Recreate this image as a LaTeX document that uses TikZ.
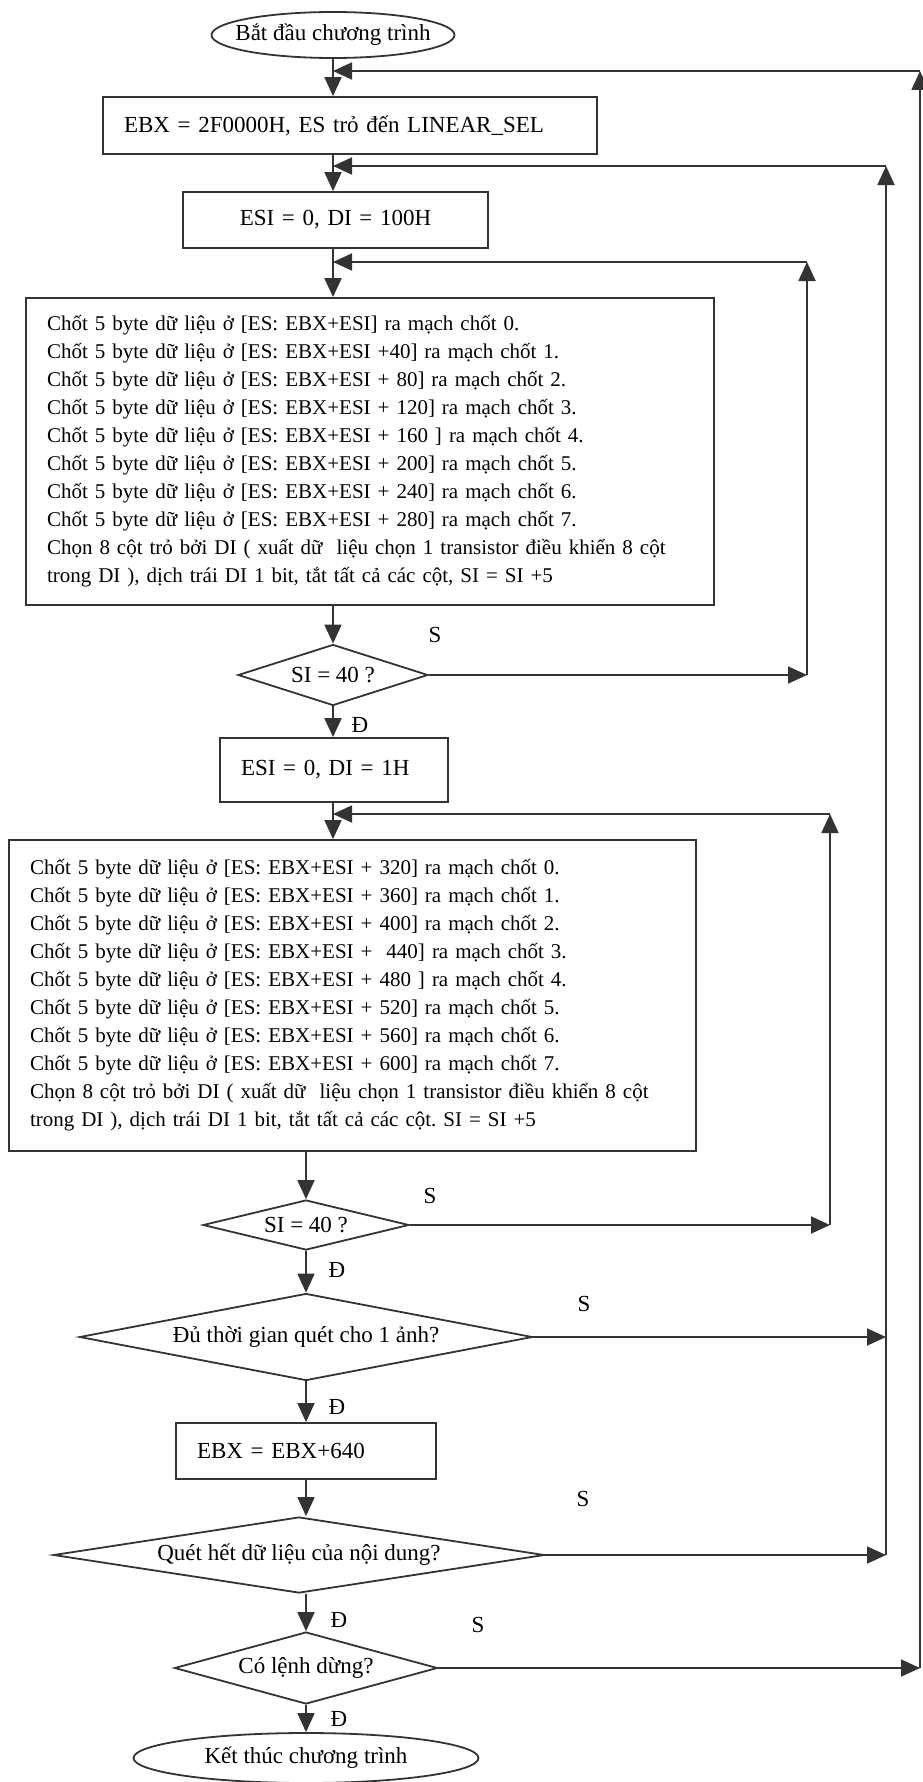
\documentclass[tikz,border=0pt]{standalone}
\usepackage{fontspec}
\setmainfont{Liberation Serif}
\usepackage{tikz}
\usetikzlibrary{shapes.geometric, arrows.meta, positioning, calc}
\frenchspacing

\newcommand{\chotline}[2]{Chốt 5 byte dữ liệu ở [ES: EBX+ESI#1] ra mạch chốt #2.}

\begin{document}
\begin{tikzpicture}[
    x=1pt, y=-1pt,
    flow/.style={draw=black!80, line width=1.8pt, -{Triangle[length=19pt,width=17pt]}},
    procbox/.style={rectangle, draw=black!80, line width=1.8pt, inner xsep=21pt,
                    inner ysep=0pt, align=left, font=\fontsize{23}{28}\selectfont},
    bodybox/.style={procbox, font=\fontsize{21}{28}\selectfont},
    decision/.style={diamond, draw=black!80, line width=1.8pt, inner sep=0pt,
                     font=\fontsize{23}{28}\selectfont},
    terminal/.style={ellipse, draw=black!80, line width=1.8pt, inner sep=0pt,
                     font=\fontsize{23}{28}\selectfont},
    branch/.style={font=\fontsize{23}{28}\selectfont, inner sep=0pt}
]
\useasboundingbox (0,0) rectangle (923,1782);

% upper column
\node[terminal, minimum width=243, minimum height=46, inner xsep=-17pt] (start) at (333,35) {Bắt đầu chương trình};
\node[procbox, text width=452, minimum height=57] (ebx) at (350,125.5) {EBX = 2F0000H, ES trỏ đến LINEAR\_SEL};
\node[procbox, align=center, text width=263, minimum height=56] (esi1) at (335.5,220) {ESI = 0, DI = 100H};
\node[bodybox, text width=646, minimum height=307] (body1) at (370,451.5) {%
    \chotline{}{0}\\
    \chotline{ +40}{1}\\
    \chotline{ + 80}{2}\\
    \chotline{ + 120}{3}\\
    \chotline{ + 160 }{4}\\
    \chotline{ + 200}{5}\\
    \chotline{ + 240}{6}\\
    \chotline{ + 280}{7}\\
    \mbox{Chọn 8 cột trỏ bởi DI ( xuất dữ\ \ liệu chọn 1 transistor điều khiển 8 cột}\\
    trong DI ), dịch trái DI 1 bit, tắt tất cả các cột, SI = SI +5};
\node[decision, aspect=3.1, minimum width=190, minimum height=61] (si1) at (333,675) {SI = 40 ?};
\node[procbox, text width=186, minimum height=64] (esi2) at (334,770) {ESI = 0, DI = 1H};
\node[bodybox, text width=645, minimum height=311] (body2) at (352.5,995.5) {%
    \chotline{ + 320}{0}\\
    \chotline{ + 360}{1}\\
    \chotline{ + 400}{2}\\
    \chotline{ +\ \ 440}{3}\\
    \chotline{ + 480 }{4}\\
    \chotline{ + 520}{5}\\
    \chotline{ + 560}{6}\\
    \chotline{ + 600}{7}\\
    \mbox{Chọn 8 cột trỏ bởi DI ( xuất dữ\ \ liệu chọn 1 transistor điều khiển 8 cột}\\
    trong DI ), dịch trái DI 1 bit, tắt tất cả các cột. SI = SI +5};

% lower column
\node[decision, aspect=4.1, minimum width=206, minimum height=50] (si2) at (306,1225) {SI = 40 ?};
\node[decision, aspect=5.2, minimum width=453, minimum height=87] (frame) at (306,1337) {Đủ thời gian quét cho 1 ảnh?};
\node[procbox, text width=218, minimum height=56] (ebx2) at (306,1451) {EBX = EBX+640};
\node[decision, aspect=6.4, minimum width=491, minimum height=76] (content) at (299,1555) {Quét hết dữ liệu của nội dung?};
\node[decision, aspect=3.65, minimum width=263, minimum height=72] (stop) at (306,1668) {Có lệnh dừng?};
\node[terminal, minimum width=345, minimum height=50] (end) at (306,1758) {Kết thúc chương trình};

% branch labels
\foreach \n/\x/\y in {s1/435/635, s2/430/1196, s3/584/1304, s4/583/1499, s5/478/1625}
    \node[branch] (\n) at (\x,\y) {S};
\foreach \n/\x/\y in {d1/360/725, d2/337/1270, d3/337/1407, d4/339/1620, d5/339/1719}
    \node[branch] (\n) at (\x,\y) {Đ};

% joins on the main line and corners of the return rails
\coordinate (jebx) at (333,71);
\coordinate (jesi) at (333,166);
\coordinate (jbody) at (333,262);
\coordinate (jbody2) at (333,814);
\coordinate (railA) at (807,262);
\coordinate (railB) at (830,814);
\coordinate (railC) at (886,166);
\coordinate (railD) at (920,71);

% main flow
\draw[flow] (start.south) -- (start.south |- ebx.north);
\draw[flow] (start.south |- ebx.south) -- (start.south |- esi1.north);
\draw[flow] (start.south |- esi1.south) -- (start.south |- body1.north);
\draw[flow] (si1.north |- body1.south) -- (si1.north);
\draw[flow] (si1.south) -- (si1.south |- esi2.north);
\draw[flow] (si1.south |- esi2.south) -- (si1.south |- body2.north);
\draw[flow] (si2.north |- body2.south) -- (si2.north);
\draw[flow] (si2.south) -- (frame.north);
\draw[flow] (frame.south) -- (ebx2.north);
\draw[flow] (ebx2.south) -- (ebx2.south |- content.north);
\draw[flow] (stop.north |- content.south) -- (stop.north);
\draw[flow] (stop.south) -- (end.north);

% return rails
\draw[flow] (si1.east) -- (si1.east -| railA);
\draw[flow] (si1.east -| railA) -- (railA);
\draw[flow] (railA) -- (jbody);

\draw[flow] (si2.east) -- (si2.east -| railB);
\draw[flow] (si2.east -| railB) -- (railB);
\draw[flow] (railB) -- (jbody2);

\draw[flow] (frame.east) -- (frame.east -| railC);
\draw[flow] (content.east) -- (content.east -| railC);
\draw[flow] (content.east -| railC) -- (railC);
\draw[flow] (railC) -- (jesi);

\draw[flow] (stop.east) -- (stop.east -| railD);
\draw[flow] (stop.east -| railD) -- (railD);
\draw[flow] (railD) -- (jebx);
\end{tikzpicture}
\end{document}
